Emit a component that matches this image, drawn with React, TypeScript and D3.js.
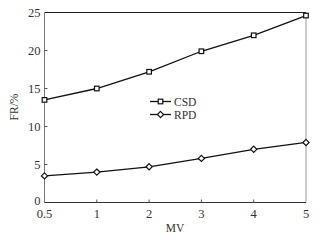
import React from "react";
import * as d3 from "d3";

const categories = ["0.5", "1", "2", "3", "4", "5"];
const csdValues = [13.5, 15.0, 17.2, 19.9, 22.0, 24.6];
const rpdValues = [3.5, 4.0, 4.7, 5.8, 7.0, 7.9];
const yTicks = [0, 5, 10, 15, 20, 25];
const seriesNames = ["CSD", "RPD"];

const W = 320, H = 240;
const m = { left: 44.5, right: 306, top: 12.5, bottom: 202.5 };
const font = "'Liberation Serif', 'DejaVu Serif', serif";

export default function App() {
  const x = d3.scalePoint<string>().domain(categories).range([m.left, m.right]);
  const y = d3.scaleLinear().domain([0, 25]).range([m.bottom, m.top]);
  const line = d3.line<number>().x((_, i) => x(categories[i])!).y((d) => y(d));

  const square = (cx: number, cy: number, k: string) => (
    <rect key={k} x={cx - 2.3} y={cy - 2.3} width={4.6} height={4.6} fill="#fff" stroke="#111" strokeWidth={1.2} />
  );
  const diamond = (cx: number, cy: number, k: string) => (
    <path key={k} d={`M${cx},${cy - 3.1}L${cx + 3.1},${cy}L${cx},${cy + 3.1}L${cx - 3.1},${cy}Z`} fill="#fff" stroke="#111" strokeWidth={1.2} />
  );

  return (
    <svg width={W} height={H} style={{ position: "absolute", left: 0, top: 0, background: "#fff" }}>
      <rect width={W} height={H} fill="#fff" />
      {/* frame */}
      <line x1={m.left} x2={m.right} y1={m.top} y2={m.top} stroke="#222" strokeWidth={1} />
      <line x1={m.right} x2={m.right} y1={m.top} y2={m.bottom} stroke="#999" strokeWidth={1} />
      <line x1={m.left} x2={m.left} y1={m.top} y2={m.bottom} stroke="#777" strokeWidth={1} />
      <line x1={m.left} x2={m.right} y1={m.bottom} y2={m.bottom} stroke="#333" strokeWidth={1} />
      {/* y ticks */}
      {yTicks.map((t) => (
        <g key={"y" + t}>
          {t > 0 && t < 25 && <line x1={m.left} x2={m.left + 3} y1={y(t)} y2={y(t)} stroke="#555" />}
          <text x={m.left - 4} y={y(t) + (t === 0 ? 2.5 : 4)} textAnchor="end" fontFamily={font} fontSize={12.5} fill="#333">{t}</text>
        </g>
      ))}
      {/* x ticks */}
      {categories.map((c, i) => (
        <g key={"x" + c}>
          {i > 0 && i < categories.length - 1 && <line x1={x(c)} x2={x(c)} y1={m.bottom} y2={m.bottom - 3} stroke="#555" />}
          <text x={x(c)} y={m.bottom + 15} textAnchor="middle" fontFamily={font} fontSize={12.5} fill="#333">{c}</text>
        </g>
      ))}
      <text x={175} y={232} textAnchor="middle" fontFamily={font} fontSize={11.5} fill="#333">MV</text>
      <text transform="translate(18,107) rotate(-90)" textAnchor="middle" fontFamily={font} fontSize={11.5} fill="#333">FR/%</text>
      {/* series */}
      <path d={line(csdValues)!} fill="none" stroke="#111" strokeWidth={1.3} />
      <path d={line(rpdValues)!} fill="none" stroke="#111" strokeWidth={1.3} />
      {csdValues.map((v, i) => square(x(categories[i])!, y(v), "s" + i))}
      {rpdValues.map((v, i) => diamond(x(categories[i])!, y(v), "d" + i))}
      {/* legend */}
      <g>
        <line x1={150} x2={171} y1={101.5} y2={101.5} stroke="#111" strokeWidth={1.3} />
        {square(160.5, 101.5, "ls")}
        <text x={174} y={105.5} fontFamily={font} fontSize={11.5} fill="#333">{seriesNames[0]}</text>
        <line x1={150} x2={171} y1={114.5} y2={114.5} stroke="#111" strokeWidth={1.3} />
        {diamond(160.5, 114.5, "ld")}
        <text x={174} y={118.5} fontFamily={font} fontSize={11.5} fill="#333">{seriesNames[1]}</text>
      </g>
    </svg>
  );
}
